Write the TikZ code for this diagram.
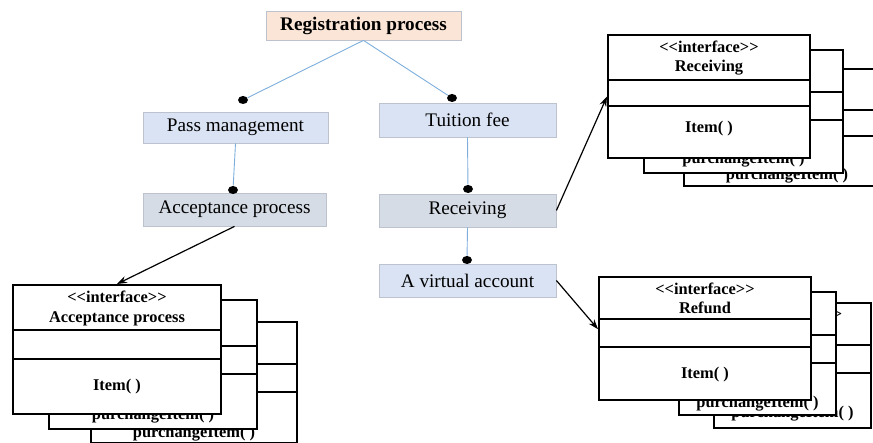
\documentclass[tikz,border=0pt]{standalone}
\usepackage{fontspec}
\setmainfont{Liberation Serif}
\usetikzlibrary{arrows.meta,shapes.geometric}

\definecolor{peach}{HTML}{FBE5D6}
\definecolor{paleblue}{HTML}{DAE3F3}
\definecolor{greyblue}{HTML}{D6DCE5}
\definecolor{edgegrey}{HTML}{BCC3CE}
\definecolor{linkblue}{HTML}{7EAEDC}

\newcommand{\stereo}{<\kern0pt<interface>\kern0pt>}

\begin{document}
\begin{tikzpicture}[x=0.5pt,y=-0.5pt]

\tikzset{
    dot/.style={ellipse,inner sep=0pt,minimum width=5pt,minimum height=4pt,fill=black},
    proc/.style={draw=edgegrey,line width=0.4pt,inner sep=0pt,font=\fontsize{9.6}{11}\selectfont},
    link/.style={draw=linkblue,line width=0.45pt},
    umlbox/.style={draw,line width=1pt,fill=white,anchor=north west,inner sep=0pt},
    umlline/.style={line width=1pt},
    umltext/.style={font=\fontsize{8.2}{9.6}\selectfont\bfseries,align=center,inner sep=0pt},
    arr/.style={-{Stealth[length=5pt,width=3.5pt]},line width=0.6pt}}

\useasboundingbox (0,0) rectangle (873,443);
\clip (0,0) rectangle (873,443);

% process tree
\node[proc, fill=peach, minimum width=97.5pt, minimum height=14.5pt, font=\fontsize{9.6}{11}\selectfont\bfseries] (reg) at (363.5,25.5) {Registration process};
\node[proc, fill=paleblue, minimum width=92.5pt, minimum height=15.5pt] (pass) at (235.5,127.5) {Pass management};
\node[proc, fill=paleblue, minimum width=88.5pt, minimum height=17pt] (tuition) at (467.5,120) {Tuition fee};
\node[proc, fill=greyblue, minimum width=91.5pt, minimum height=16.5pt] (accept) at (234.5,209.5) {Acceptance process};
\node[proc, fill=greyblue, minimum width=88.5pt, minimum height=16.5pt] (recv) at (467.5,210.5) {Receiving};
\node[proc, fill=paleblue, minimum width=88.5pt, minimum height=16.5pt] (virt) at (467.5,280.5) {A virtual account};

\node[dot] (d1) at (243,100) {};
\node[dot] (d2) at (452,98) {};
\node[dot] (d3) at (233,190) {};
\node[dot] (d4) at (468,189) {};
\node[dot] (d5) at (467,260) {};

\draw[link] (reg.south) -- (d1);
\draw[link] (reg.south) -- (d2);
\draw[link] (pass.south) -- (d3);
\draw[link] (tuition.south) -- (d4);
\draw[link] (recv.south) -- (d5);

% acceptance process stack
\node[umlbox, minimum width=103pt, minimum height=60.5pt] (acc3) at (90,321) {};
\draw[umlline] ([yshift=-21.5pt]acc3.north west) -- ([yshift=-21.5pt]acc3.north east);
\draw[umlline] ([yshift=-35.5pt]acc3.north west) -- ([yshift=-35.5pt]acc3.north east);
\node[umltext] (acc3b) at ([yshift=5pt]acc3.south) {purchangeItem( )};

\node[umlbox, minimum width=104pt, minimum height=64.5pt] (acc2) at (48,299) {};
\draw[umlline] ([yshift=-23.5pt]acc2.north west) -- ([yshift=-23.5pt]acc2.north east);
\draw[umlline] ([yshift=-37.5pt]acc2.north west) -- ([yshift=-37.5pt]acc2.north east);
\node[umltext] (acc2b) at ([yshift=7pt]acc2.south) {purchangeItem( )};

\node[umlbox, minimum width=104pt, minimum height=64.5pt] (acc1) at (12,284) {};
\draw[umlline] ([yshift=-23pt]acc1.north west) -- ([yshift=-23pt]acc1.north east);
\draw[umlline] ([yshift=-37.5pt]acc1.north west) -- ([yshift=-37.5pt]acc1.north east);
\node[umltext] (acc1a) at ([yshift=-12.25pt]acc1.north) {\stereo\\Acceptance process};
\node[umltext] (acc1b) at ([yshift=-51.5pt]acc1.north) {Item( )};

% receiving stack
\node[umlbox, minimum width=103pt, minimum height=58.5pt] (rec3) at (683,68) {};
\draw[umlline] ([yshift=-21pt]rec3.north west) -- ([yshift=-21pt]rec3.north east);
\draw[umlline] ([yshift=-34pt]rec3.north west) -- ([yshift=-34pt]rec3.north east);
\node[umltext] (rec3b) at ([yshift=5.5pt]rec3.south) {purchangeItem( )};

\node[umlbox, minimum width=99.5pt, minimum height=61.5pt] (rec2) at (643,49) {};
\draw[umlline] ([yshift=-21.5pt]rec2.north west) -- ([yshift=-21.5pt]rec2.north east);
\draw[umlline] ([yshift=-35.5pt]rec2.north west) -- ([yshift=-35.5pt]rec2.north east);
\node[umltext] (rec2b) at ([yshift=7pt]rec2.south) {purchangeItem( )};

\node[umlbox, minimum width=101pt, minimum height=61.5pt] (rec1) at (607,34) {};
\draw[umlline] ([yshift=-23pt]rec1.north west) -- ([yshift=-23pt]rec1.north east);
\draw[umlline] ([yshift=-36pt]rec1.north west) -- ([yshift=-36pt]rec1.north east);
\node[umltext] (rec1a) at ([yshift=-12pt]rec1.north) {\stereo\\Receiving};
\node[umltext] (rec1b) at ([yshift=-47.5pt]rec1.north) {Item( )};

% refund stack
\node[umlbox, minimum width=78.5pt, minimum height=62.5pt] (ref3) at (713,302) {};
\draw[umlline] ([yshift=-21.5pt]ref3.north west) -- ([yshift=-21.5pt]ref3.north east);
\draw[umlline] ([yshift=-35.5pt]ref3.north west) -- ([yshift=-35.5pt]ref3.north east);
\node[umltext] (ref3a) at ([yshift=-6pt]ref3.north) {\stereo};
\node[umltext] (ref3b) at ([yshift=7.5pt]ref3.south) {purchangeItem( )};

\node[umlbox, minimum width=78.5pt, minimum height=61.5pt] (ref2) at (678,291) {};
\draw[umlline] ([yshift=-22pt]ref2.north west) -- ([yshift=-22pt]ref2.north east);
\draw[umlline] ([yshift=-36pt]ref2.north west) -- ([yshift=-36pt]ref2.north east);
\node[umltext] (ref2b) at ([yshift=6pt]ref2.south) {purchangeItem( )};

\node[umlbox, minimum width=106pt, minimum height=61.5pt] (ref1) at (598,276) {};
\draw[umlline] ([yshift=-21.5pt]ref1.north west) -- ([yshift=-21.5pt]ref1.north east);
\draw[umlline] ([yshift=-35.5pt]ref1.north west) -- ([yshift=-35.5pt]ref1.north east);
\node[umltext] (ref1a) at ([yshift=-11.25pt]ref1.north) {\stereo\\Refund};
\node[umltext] (ref1b) at ([yshift=-49.5pt]ref1.north) {Item( )};

% links to the interfaces
\draw[arr] (accept.south) -- (acc1.north);
\draw[arr] (recv.east) -- (rec1.west);
\draw[arr] (virt.east) -- (ref1.175);

\end{tikzpicture}
\end{document}
